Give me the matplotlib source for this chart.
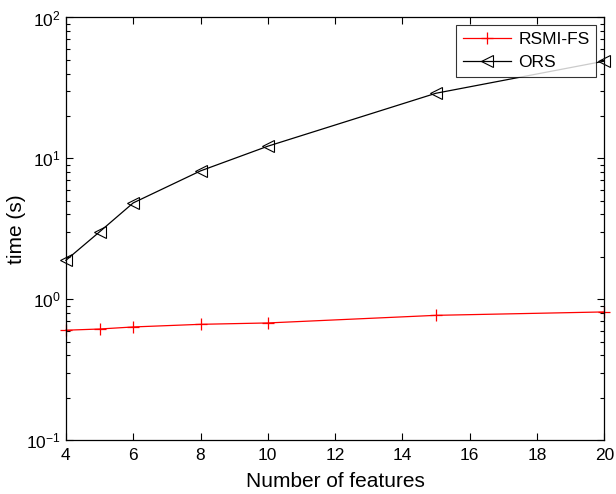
import matplotlib
matplotlib.use("Agg")
import matplotlib.pyplot as plt
from matplotlib.ticker import LogLocator, FixedLocator

plt.rcParams['font.family'] = ['Liberation Sans', 'DejaVu Sans']
plt.rcParams['mathtext.fontset'] = 'custom'
plt.rcParams['mathtext.rm'] = 'Liberation Sans'
plt.rcParams['mathtext.it'] = 'Liberation Sans:italic'
plt.rcParams['mathtext.bf'] = 'Liberation Sans:bold'

features = [4, 5, 6, 8, 10, 15, 20]
rsmi_fs = [0.603, 0.615, 0.636, 0.664, 0.679, 0.769, 0.813]
ors = [1.89, 3.01, 4.83, 8.15, 12.2, 29.0, 49.0]
x_ticks = [4, 6, 8, 10, 12, 14, 16, 18, 20]

fig = plt.figure(figsize=(6.16, 4.94), dpi=100)
ax = fig.add_axes([0.107, 0.109, 0.874, 0.8556])

ax.plot(features, rsmi_fs, color='red', lw=0.9, marker='+', markersize=9,
        markeredgewidth=0.9, label='RSMI-FS', clip_on=False)
ax.plot(features, ors, color='black', lw=0.9, marker='<', markersize=9,
        markerfacecolor='none', markeredgewidth=0.8, label='ORS', clip_on=False)

ax.set_yscale('log')
ax.set_xlim(4, 20)
ax.set_ylim(0.1, 100)
ax.xaxis.set_major_locator(FixedLocator(x_ticks))
ax.yaxis.set_major_locator(LogLocator(base=10, numticks=10))
ax.yaxis.set_minor_locator(LogLocator(base=10, subs=range(2, 10), numticks=10))

ax.tick_params(which='both', direction='in', top=True, right=True, labelsize=12.5, width=0.8)
ax.tick_params(which='major', length=5)
ax.tick_params(which='minor', length=3)
ax.tick_params(axis='x', pad=6)
for s in ax.spines.values():
    s.set_linewidth(0.9)

ax.set_xlabel('Number of features', fontsize=15, labelpad=6)
ax.set_ylabel('time (s)', fontsize=15, labelpad=0)

leg = ax.legend(loc='upper right', fontsize=12.5, frameon=True, fancybox=False,
                edgecolor='black', borderaxespad=0.45, handlelength=2.8,
                handletextpad=0.4, borderpad=0.4, labelspacing=0.45)
leg.get_frame().set_linewidth(0.8)

fig.savefig('out.png', dpi=100)
